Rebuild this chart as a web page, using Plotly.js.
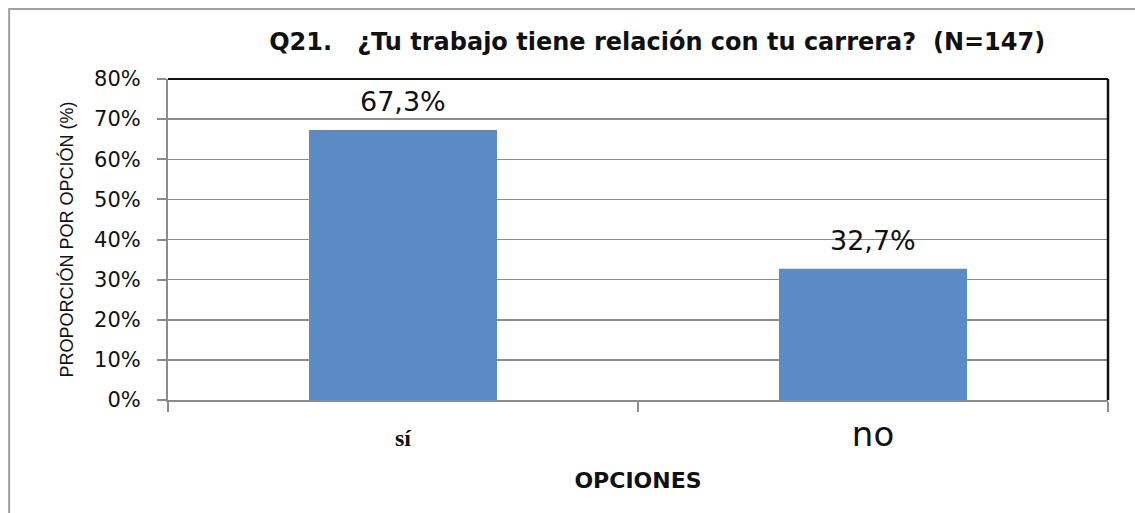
<!DOCTYPE html>
<html><head><meta charset="utf-8">
<script src="https://cdn.plot.ly/plotly-3.0.1.min.js"></script>
<style>body{margin:0;background:#fff}#c{width:1135px;height:513px}</style>
</head><body><div id="c"></div>
<script>
const categories = ['sí', 'no'];
const tickLabels = ['<span style="font-family:Liberation Serif;font-weight:bold;font-size:24px">sí</span>', '<span style="font-size:34px">no</span>'];
const proportions = [0.673, 0.327];
const labelTexts = ['67,3%', '32,7%'];
const titleText = '<b>Q21.   ¿Tu trabajo tiene relación con tu carrera?  (N=147)</b>';
const yTitle = 'PROPORCIÓN POR OPCIÓN (%)';
const xTitle = '<b>OPCIONES</b>';

const grey = '#8c8c8c';
const sans = 'DejaVu Sans, sans-serif';
const data = [{
  type: 'bar', x: categories, y: proportions,
  marker: {color: '#5B8BC4'},
  width: 0.4, hoverinfo: 'none'
}];
const annotations = categories.map((c, i) => ({
  x: c, y: proportions[i], xref: 'x', yref: 'y', text: labelTexts[i],
  showarrow: false, yanchor: 'bottom', yshift: 11,
  font: {family: sans, size: 27, color: '#111'}
}));
const layout = {
  width: 1135, height: 513,
  margin: {l: 168, r: 27, t: 79, b: 113},
  separators: ',.',
  paper_bgcolor: '#fff', plot_bgcolor: '#fff',
  showlegend: false,
  annotations: annotations,
  title: {text: titleText, x: 0.579, xanchor: 'center', y: 0.918, yanchor: 'middle',
          font: {family: sans, size: 24, color: '#111'}},
  xaxis: {type: 'category', tickson: 'boundaries', ticks: 'outside', ticklen: 10, tickwidth: 2, tickcolor: grey,
          tickvals: categories, ticktext: tickLabels, ticklabelstandoff: 20,
          showline: true, linecolor: grey, linewidth: 2, showgrid: false,
          tickfont: {family: sans, size: 20, color: '#111'},
          title: {text: xTitle, standoff: 20, font: {family: sans, size: 22, color: '#111'}}},
  yaxis: {range: [0, 0.8], dtick: 0.1, tickformat: '.0%', ticks: 'outside', ticklen: 9, tickwidth: 2, tickcolor: grey,
          ticklabelstandoff: 12,
          showline: true, linecolor: grey, linewidth: 2,
          showgrid: true, gridcolor: grey, gridwidth: 1.5, zeroline: false,
          tickfont: {family: sans, size: 21, color: '#111'},
          title: {text: yTitle, standoff: 16, font: {family: 'Liberation Sans Narrow, Liberation Sans, sans-serif', size: 18, color: '#111'}}},
  shapes: [
    {type: 'line', xref: 'paper', yref: 'paper', x0: 0, x1: 1, y0: 1, y1: 1, line: {color: '#111', width: 2}},
    {type: 'line', xref: 'paper', yref: 'paper', x0: 1, x1: 1, y0: 0, y1: 1, line: {color: '#111', width: 2.5}},
    {type: 'rect', xref: 'paper', yref: 'paper', x0: -0.169, x1: 1.3, y0: -0.6, y1: 1.218, line: {color: '#a0a0a0', width: 2}, fillcolor: 'rgba(0,0,0,0)'}
  ]
};
Plotly.newPlot('c', data, layout, {displayModeBar: false, staticPlot: true});
</script></body></html>
